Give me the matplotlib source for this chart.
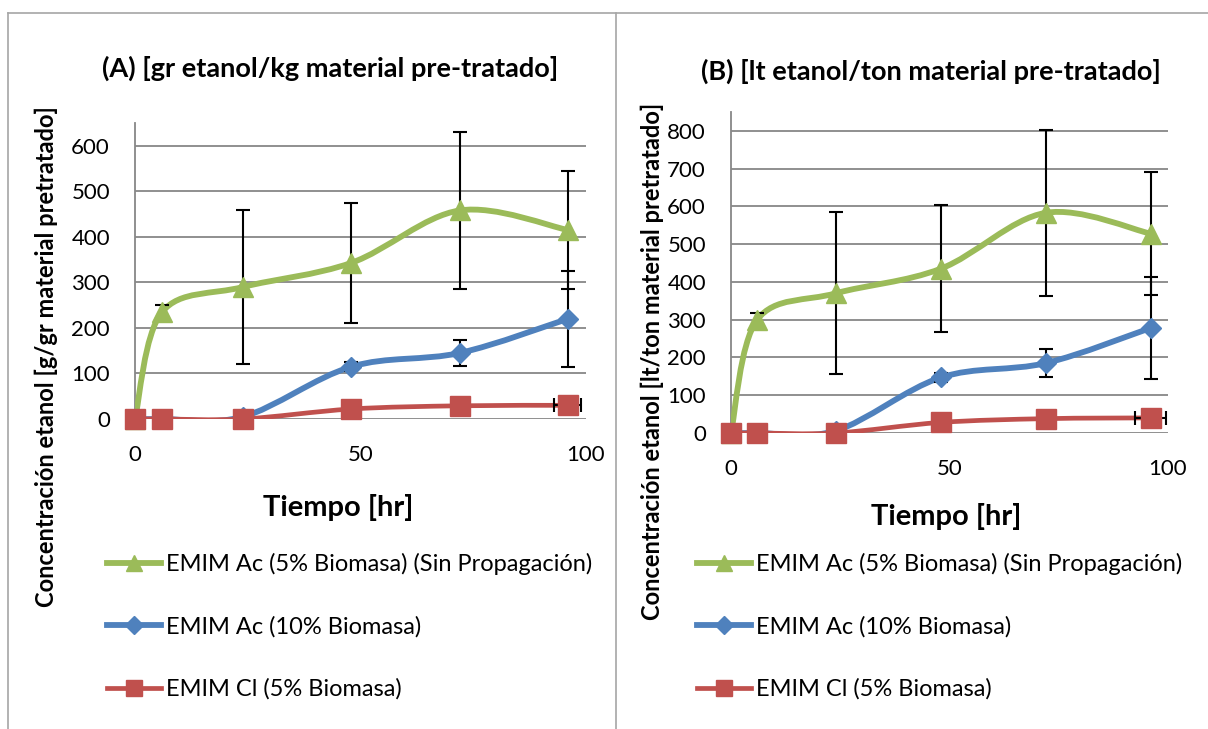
import numpy as np
import matplotlib
matplotlib.use("Agg")
import matplotlib.pyplot as plt
from matplotlib.path import Path
from matplotlib.patches import PathPatch
from matplotlib.lines import Line2D

plt.rcParams['font.family'] = ['Lato', 'DejaVu Sans']

# ---------------- data ----------------
tiempo = [0, 6, 24, 48, 72, 96]

labels = ["EMIM Ac (5% Biomasa) (Sin Propagación)",
          "EMIM Ac (10% Biomasa)",
          "EMIM Cl (5% Biomasa)"]

# Panel A  [gr etanol/kg material pre-tratado]
a_green = [0, 235, 290, 343, 458, 415]
a_green_err = [0, 15, 170, 132, 173, 130]
a_blue = [0, 0, 5, 115, 145, 220]
a_blue_err = [0, 0, 3, 10, 29, 105]
a_red = [0, 0, 0, 22, 29, 30]
a_red_err = [0, 0, 0, 0, 0, 0]
a_red_xerr = [0, 0, 0, 0, 0, 3]

# Panel B  [lt etanol/ton material pre-tratado]
b_green = [0, 300, 370, 435, 583, 528]
b_green_err = [0, 18, 215, 168, 220, 163]
b_blue = [0, 0, 6, 147, 185, 278]
b_blue_err = [0, 0, 4, 12, 37, 134]
b_red = [0, 0, 0, 28, 38, 40]
b_red_err = [0, 0, 0, 0, 0, 0]
b_red_xerr = [0, 0, 0, 0, 0, 3.5]

titles = ["(A) [gr etanol/kg material pre-tratado]",
          "(B) [lt etanol/ton material pre-tratado]"]
ylabels = ["Concentración etanol [g/gr material pretratado]",
           "Concentración etanol [lt/ton material pretratado]"]
xlabel = "Tiempo [hr]"
a_yticks = [0, 100, 200, 300, 400, 500, 600]
b_yticks = [0, 100, 200, 300, 400, 500, 600, 700, 800]
xticks = [0, 50, 100]

# ---------------- style ----------------
GREEN = '#9BBB59'
BLUE = '#4F81BD'
RED = '#C0504D'
GRID = '#878787'

W, H = 1208, 729
fig = plt.figure(figsize=(W / 100, H / 100), dpi=100)


def box(l, t, r, b):
    return [l / W, 1 - b / H, (r - l) / W, (b - t) / H]


def smooth_path(x, y):
    x = np.asarray(x, float)
    y = np.asarray(y, float)
    P = np.column_stack([x, y])
    n = len(P)
    verts = [P[0]]
    codes = [Path.MOVETO]
    for i in range(n - 1):
        p0 = P[i - 1] if i > 0 else P[i]
        p1 = P[i]
        p2 = P[i + 1]
        p3 = P[i + 2] if i + 2 < n else P[i + 1]
        c1 = p1 + (p2 - p0) / 6.0
        c2 = p2 - (p3 - p1) / 6.0
        verts += [c1, c2, p2]
        codes += [Path.CURVE4] * 3
    return Path(verts, codes)


def draw_series(ax, y, yerr, color, marker, ms, lw, xerr=None):
    ax.add_patch(PathPatch(smooth_path(tiempo, y), facecolor='none',
                           edgecolor=color, lw=lw, capstyle='round',
                           joinstyle='round', zorder=3))
    ax.errorbar(tiempo, y, yerr=yerr, xerr=xerr, fmt='none', ecolor='black',
                elinewidth=1.5, capsize=5, capthick=1.5, zorder=4)
    ax.plot(tiempo, y, linestyle='none', marker=marker, ms=ms,
            color=color, markeredgecolor=color, zorder=5, clip_on=False)


def panel(rect, ymax, yticks, data, title, ylabel, title_xy, ylabel_xy,
          xlabel_xy, legend_xy):
    ax = fig.add_axes(box(*rect))
    ax.set_xlim(0, 100)
    ax.set_ylim(0, ymax)
    ax.set_xticks(xticks)
    ax.set_yticks(yticks)
    ax.yaxis.grid(True, color=GRID, lw=1.3)
    ax.set_axisbelow(True)
    for s in ['top', 'right', 'bottom']:
        ax.spines[s].set_visible(False)
    ax.spines['left'].set_color(GRID)
    ax.spines['left'].set_linewidth(1.3)
    ax.tick_params(axis='both', length=0, labelsize=16, colors='black')
    ax.tick_params(axis='x', pad=19)
    ax.tick_params(axis='y', pad=18)

    g, ge, b, be, r, re_, rx = data
    draw_series(ax, g, ge, GREEN, '^', 14, 4.2)
    draw_series(ax, b, be, BLUE, 'D', 10, 4.2)
    draw_series(ax, r, re_, RED, 's', 14, 3.4, xerr=rx)

    fig.text(title_xy[0] / W, 1 - title_xy[1] / H, title, ha='center',
             va='baseline', fontsize=19.5, fontweight='bold')
    fig.text(ylabel_xy[0] / W, 1 - ylabel_xy[1] / H, ylabel, ha='center',
             va='center', rotation=90, fontsize=17, fontweight='bold')
    fig.text(xlabel_xy[0] / W, 1 - xlabel_xy[1] / H, xlabel, ha='center',
             va='baseline', fontsize=21, fontweight='bold')

    handles = [Line2D([], [], color=GREEN, lw=4.2, marker='^', ms=12),
               Line2D([], [], color=BLUE, lw=4.2, marker='D', ms=9),
               Line2D([], [], color=RED, lw=3.4, marker='s', ms=12)]
    ax.legend(handles, labels, loc='upper left',
              bbox_to_anchor=(legend_xy[0] / W, 1 - legend_xy[1] / H),
              bbox_transform=fig.transFigure, frameon=False, fontsize=17,
              handlelength=2.3, handletextpad=0.2, labelspacing=1.73,
              borderpad=0, borderaxespad=0)
    return ax


panel((135, 123, 586, 419), 650, a_yticks,
      (a_green, a_green_err, a_blue, a_blue_err, a_red, a_red_err, a_red_xerr),
      titles[0], ylabels[0], (330, 77), (46, 357), (338, 516), (107, 553))
panel((731, 112, 1168, 433), 850, b_yticks,
      (b_green, b_green_err, b_blue, b_blue_err, b_red, b_red_err, b_red_xerr),
      titles[1], ylabels[1], (931, 80), (652, 361), (946, 525), (697, 553))

# panel borders
border = dict(color='#A6A6A6', lw=1.2, transform=fig.transFigure)
fig.add_artist(Line2D([8 / W, 8 / W], [0, 1 - 13 / H], **border))
fig.add_artist(Line2D([8 / W, 1], [1 - 13 / H, 1 - 13 / H], **border))
fig.add_artist(Line2D([616 / W, 616 / W], [0, 1 - 13 / H], **border))

fig.savefig('out.png', dpi=100)
